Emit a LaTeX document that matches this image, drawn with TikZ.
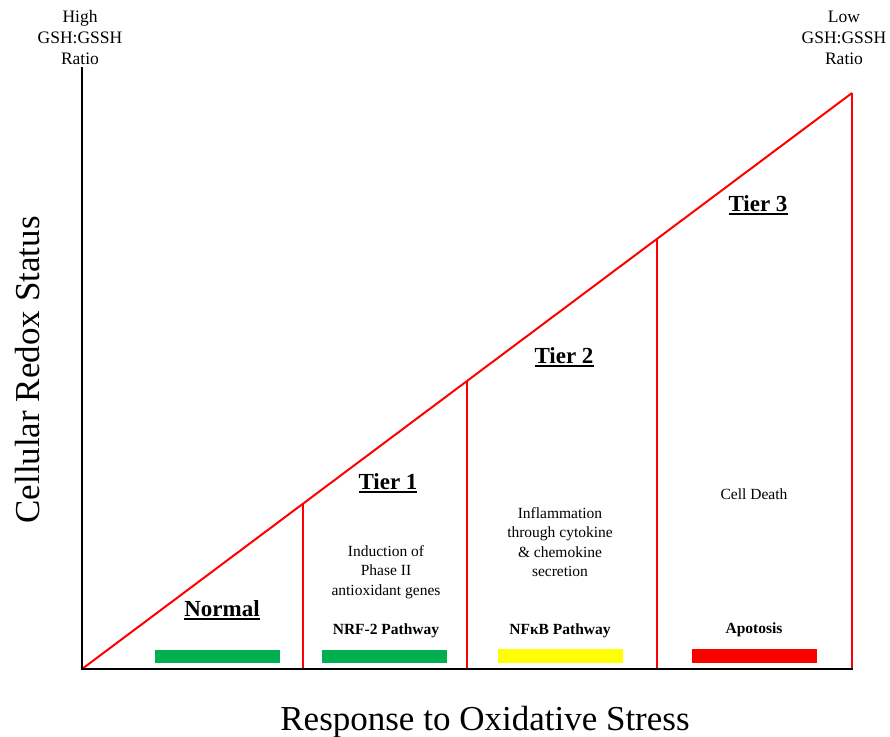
\documentclass[tikz,border=0pt]{standalone}
\usepackage{fontspec}
\setmainfont{Liberation Serif}
\usetikzlibrary{calc}
\definecolor{bargreen}{HTML}{00B050}
\definecolor{baryellow}{HTML}{FFFF00}
\definecolor{barred}{HTML}{FF0000}
\newcommand\myul[1]{\setbox0\hbox{#1}\rlap{\rule[-4pt]{\wd0}{1.8pt}}\box0}
\tikzset{
  axisline/.style={draw=black, line width=2pt},
  redline/.style={draw=red, line width=2pt},
  tierlabel/.style={font=\fontsize{23}{27}\selectfont\bfseries, inner sep=0pt, anchor=base},
  smalltext/.style={font=\fontsize{15.5}{19.5}\selectfont, align=center, inner sep=0pt},
  pathlabel/.style={font=\fontsize{15.5}{19.5}\selectfont\bfseries, inner sep=0pt, anchor=base},
  ratiotext/.style={font=\fontsize{17.5}{21}\selectfont, align=center, inner sep=0pt},
  axistitle/.style={font=\fontsize{35}{40}\selectfont, inner sep=0pt, anchor=base},
}
\begin{document}
\begin{tikzpicture}[x=1pt,y=-1pt]
\useasboundingbox (0,0) rectangle (890,736);
% key coordinates
\coordinate (O) at (82,669);
\coordinate (Ytop) at (82,67);
\coordinate (Xend) at (853,669);
\coordinate (T) at (852,93);
\coordinate (P1) at ($(O)!0.287!(T)$);
\coordinate (P2) at ($(O)!0.5!(T)$);
\coordinate (P3) at ($(O)!0.7468!(T)$);
\coordinate (B1) at (P1 |- O);
\coordinate (B2) at (P2 |- O);
\coordinate (B3) at (P3 |- O);
\coordinate (B4) at (T |- O);
% red diagonal and tier separators
\draw[redline] (O) -- (T);
\draw[redline] (B1) -- (P1);
\draw[redline] (B2) -- (P2);
\draw[redline] (B3) -- (P3);
\draw[redline] (B4) -- (T);
% axes
\draw[axisline] (Ytop) -- (O) -- (Xend);
% bars
\fill[bargreen] (155,650) rectangle (280,663);
\fill[bargreen] (322,650) rectangle (447,663);
\fill[baryellow] (498,649) rectangle (623,663);
\fill[barred] (692,649) rectangle (817,663);
% labels
\node[ratiotext] (high) at (80,38) {High\\GSH:GSSH\\Ratio};
\node[ratiotext] (low) at (844,38) {Low\\GSH:GSSH\\Ratio};
\node[tierlabel] (normal) at (222,616) {\myul{Normal}};
\node[tierlabel] (tier1) at (388,489) {\myul{Tier 1}};
\node[tierlabel] (tier2) at (564,363) {\myul{Tier 2}};
\node[tierlabel] (tier3) at (758,211) {\myul{Tier 3}};
\node[smalltext] (induction) at (386,572) {Induction of\\Phase II\\antioxidant genes};
\node[smalltext] (inflam) at (560,542) {Inflammation\\through cytokine\\\& chemokine\\secretion};
\node[smalltext, anchor=base] (death) at (754,499) {Cell Death};
\node[pathlabel] (nrf) at (386,634) {NRF-2 Pathway};
\node[pathlabel] (nfkb) at (560,634) {NFκB Pathway};
\node[pathlabel] (apo) at (754,633) {Apotosis};
\node[axistitle] (xtitle) at (485,730) {Response to Oxidative Stress};
\node[axistitle, rotate=90] (ytitle) at (39,370) {Cellular Redox Status};
\end{tikzpicture}
\end{document}
